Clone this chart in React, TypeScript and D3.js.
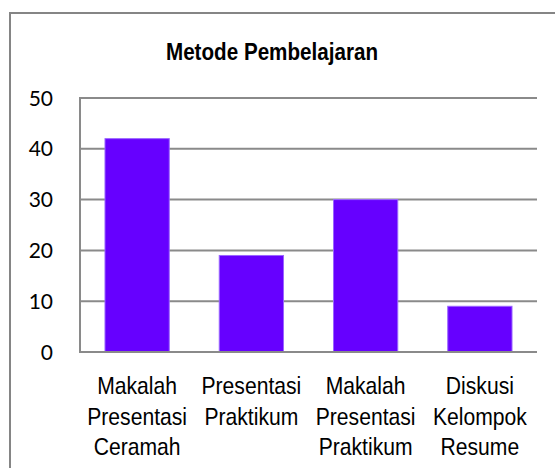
import React from "react";
import * as d3 from "d3";

const title = "Metode Pembelajaran";
const categories: string[][] = [
  ["Makalah", "Presentasi", "Ceramah"],
  ["Presentasi", "Praktikum"],
  ["Makalah", "Presentasi", "Praktikum"],
  ["Diskusi", "Kelompok", "Resume"],
];
const values: number[] = [42, 19, 30, 9];
const yTicks: number[] = [0, 10, 20, 30, 40, 50];

const W = 555;
const H = 468;
const plotLeft = 80;
const plotRight = 537;
const plotTop = 98;
const plotBottom = 352;

export default function App() {
  const x = d3
    .scaleBand<number>()
    .domain(values.map((_, i) => i))
    .range([plotLeft, plotRight])
    .paddingInner(0.4375)
    .paddingOuter(0.21875);
  const y = d3.scaleLinear().domain([0, 50]).range([plotBottom, plotTop]);
  const grid = "#8a8a8a";

  return (
    <svg
      width={W}
      height={H}
      style={{ position: "absolute", left: 0, top: 0, background: "#fff" }}
    >
      <rect x={0} y={0} width={W} height={H} fill="#fff" />
      <rect x={10} y={13} width={560} height={480} fill="none" stroke="#858585" strokeWidth={2} />
      <g transform={`translate(272,60) scale(0.86,1)`}>
        <text
          textAnchor="middle"
          fontFamily="'Liberation Sans', Arial, sans-serif"
          fontWeight="bold"
          fontSize={24}
          fill="#000"
        >
          {title}
        </text>
      </g>
      {yTicks.map((t) => (
        <g key={t}>
          <line x1={plotLeft} x2={plotRight} y1={y(t)} y2={y(t)} stroke={grid} strokeWidth={2} />
          <text
            x={53}
            y={y(t)}
            dy="0.36em"
            textAnchor="end"
            fontFamily="Lato, 'Open Sans', sans-serif"
            fontSize={21}
            fill="#000"
          >
            {t}
          </text>
        </g>
      ))}
      <line x1={plotLeft} x2={plotLeft} y1={plotTop - 1} y2={plotBottom + 1} stroke={grid} strokeWidth={2} />
      {values.map((v, i) => (
        <rect
          key={i}
          x={x(i)}
          y={y(v)}
          width={x.bandwidth()}
          height={plotBottom - y(v)}
          fill="#6600ff"
          stroke="#9a66ff"
          strokeWidth={1}
        />
      ))}
      <line x1={plotLeft} x2={plotRight} y1={plotBottom} y2={plotBottom} stroke={grid} strokeWidth={2} />
      {categories.map((lines, i) =>
        lines.map((ln, j) => (
          <g
            key={`${i}-${j}`}
            transform={`translate(${(x(i) as number) + x.bandwidth() / 2},${394 + j * 30.5}) scale(0.88,1)`}
          >
            <text
              textAnchor="middle"
              fontFamily="'Liberation Sans', Arial, sans-serif"
              fontSize={24}
              fill="#000"
            >
              {ln}
            </text>
          </g>
        ))
      )}
    </svg>
  );
}
